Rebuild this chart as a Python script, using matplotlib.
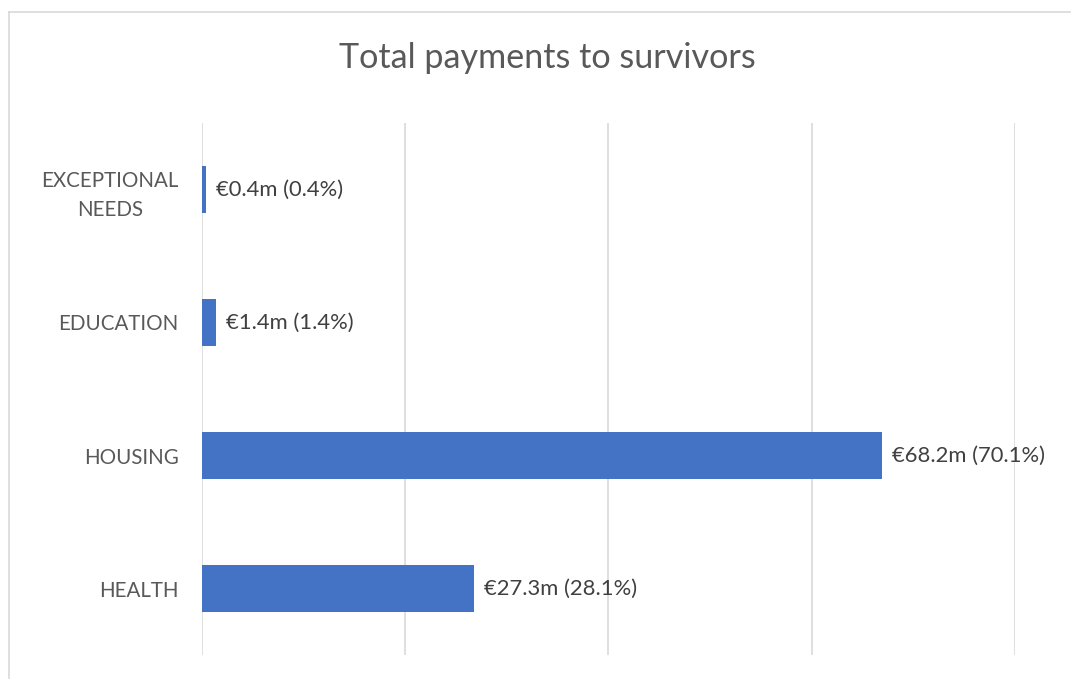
import matplotlib.pyplot as plt
from matplotlib.lines import Line2D
import numpy as np

# data (top to bottom)
categories = ['EXCEPTIONAL\nNEEDS', 'EDUCATION', 'HOUSING', 'HEALTH']
amounts = [0.4, 1.4, 68.2, 27.3]        # EUR millions
shares = [0.4, 1.4, 70.1, 28.1]         # percent of total

plt.rcParams['font.family'] = ['Lato', 'DejaVu Sans']

fig = plt.figure(figsize=(10.71, 6.79), dpi=100)
ax = fig.add_axes([0.1886, 0.0353, 0.9477 - 0.1886, 0.8189 - 0.0353])

y = np.arange(len(categories))
ax.barh(y, amounts, height=0.35, color='#4472C4', zorder=3)

xmax = 81.5
ax.set_xlim(0, xmax)
ax.set_ylim(len(categories) - 0.5, -0.5)
ax.set_xticks(np.linspace(0, xmax, 5))
ax.tick_params(axis='x', length=0, labelbottom=False)
ax.grid(axis='x', color='#D9D9D9', linewidth=1.2, zorder=0)

ax.set_yticks(y)
ax.set_yticklabels(categories, fontsize=14.8, color='#595959',
                   multialignment='center', linespacing=1.55)
ax.tick_params(axis='y', length=0, pad=17)

for s in ax.spines.values():
    s.set_visible(False)

# value labels
for yi, a, p in zip(y, amounts, shares):
    ax.annotate(f'€{a}m ({p}%)', (a, yi), xytext=(7, 0), textcoords='offset points',
                va='center', ha='left', fontsize=15.8, color='#404040', zorder=4)

fig.text(0.511, 0.915, 'Total payments to survivors', ha='center', va='center',
         fontsize=24.6, color='#595959')

# chart area border (top and left visible)
fig.add_artist(Line2D([9 / 1071, 1], [1 - 12 / 679, 1 - 12 / 679], color='#D9D9D9', linewidth=1.2))
fig.add_artist(Line2D([9 / 1071, 9 / 1071], [0, 1 - 12 / 679], color='#D9D9D9', linewidth=1.2))

fig.savefig('out.png', dpi=100, facecolor='white')
